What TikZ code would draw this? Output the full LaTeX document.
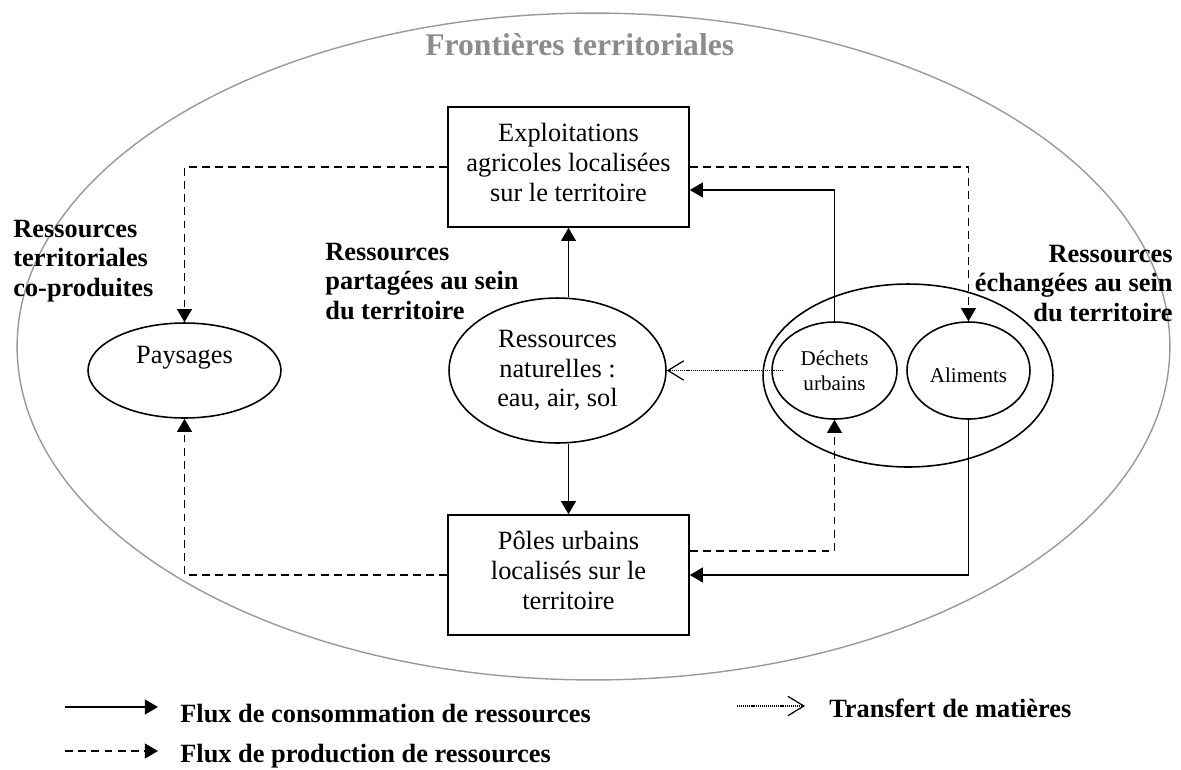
\documentclass[tikz,border=0pt]{standalone}
\usepackage{fontspec}
\setmainfont{Liberation Serif}
\usetikzlibrary{arrows.meta,shapes.geometric}

\begin{document}
\begin{tikzpicture}
    [x=0.02cm, y=-0.02cm,
    font=\fontsize{15}{17}\selectfont,
    box/.style={draw, line width=0.9pt, align=center, minimum width=4.82cm, minimum height=2.4cm, text depth=0.2cm},
    ell/.style={draw, ellipse, line width=0.9pt, align=center, inner sep=0pt},
    small/.style={font=\fontsize{12}{14.2}\selectfont},
    lbl/.style={font=\bfseries\fontsize{15}{17}\selectfont, inner sep=0pt},
    cons/.style={line width=0.9pt, -{Triangle[length=7.5pt,width=8.5pt]}},
    prod/.style={cons, dash pattern=on 4.5pt off 3pt},
    trans/.style={line width=0.7pt, dash pattern=on 0.6pt off 0.5pt, -{Straight Barb[length=9pt,width=11pt]}},
    ]
    \useasboundingbox (0,0) rectangle (1181,769);
    \node[ellipse, draw=black!40, line width=0.8pt, minimum width=23.06cm, minimum height=13.34cm] (terr) at (593.5,346.5) {};
    \node[lbl, anchor=base west, text=black!45, font=\bfseries\fontsize{18}{21}\selectfont] (titre) at (425,55) {Frontières territoriales};
    % boites et ellipses
    \node[box] (expl) at (568.5,167) {Exploitations\\agricoles localisées\\sur le territoire};
    \node[box] (pole) at (568.5,575) {Pôles urbains\\localisés sur le\\territoire};
    \node[ell, minimum width=3.86cm, minimum height=1.9cm, text height=0.3cm, text depth=0.6cm] (pays) at (184.5,370.5) {Paysages};
    \node[ell, minimum width=4.34cm, minimum height=2.9cm] (nat) at (557.5,370.5) {Ressources\\naturelles :\\eau, air, sol};
    \node[ell, minimum width=5.8cm, minimum height=3.66cm] (echg) at (908,375.5) {};
    \node[ell, small, minimum width=2.5cm, minimum height=1.94cm] (dech) at (834.5,370.5) {Déchets\\urbains};
    \node[ell, small, minimum width=2.46cm, minimum height=1.94cm, text height=0.46cm, text depth=0cm] (alim) at (968.5,370.5) {Aliments};
    % etiquettes
    \node[lbl, anchor=north west, align=left] (rtc) at (13,219.5) {Ressources\\territoriales\\co-produites};
    \node[lbl, anchor=north west, align=left] (rps) at (325,242.5) {Ressources\\partagées au sein\\du territoire};
    \node[lbl, anchor=north east, align=right] (res) at (1173,244.5) {Ressources\\échangées au sein\\du territoire};
    % flux
    \draw[prod] (expl.west) -| (pays.north);
    \draw[prod] (expl.east) -| (alim.north);
    \draw[cons] (dech.north) |- ([yshift=-0.46cm]expl.east);
    \draw[cons] (nat.north -| expl.south) -- (expl.south);
    \draw[cons] (nat.south -| pole.north) -- (pole.north);
    \draw[trans] ([xshift=0.24cm]dech.west) -- (nat.east);
    \draw[prod] (pole.west) -| (pays.south);
    \draw[prod] ([yshift=0.48cm]pole.east) -| (dech.south);
    \draw[cons] (alim.south) |- (pole.east);
    % legende
    \coordinate (l1a) at (65,707);
    \coordinate (l1b) at (158,707);
    \coordinate (l2a) at (65,751);
    \coordinate (l2b) at (158,751);
    \coordinate (l3a) at (737,706);
    \coordinate (l3b) at (805,706);
    \draw[cons] (l1a) -- (l1b);
    \draw[prod] (l2a) -- (l2b);
    \draw[trans] (l3a) -- (l3b);
    \node[lbl, anchor=base west] (t1) at (180,722) {Flux de consommation de ressources};
    \node[lbl, anchor=base west] (t2) at (180,762) {Flux de production de ressources};
    \node[lbl, anchor=base west] (t3) at (829,717) {Transfert de matières};
\end{tikzpicture}
\end{document}
